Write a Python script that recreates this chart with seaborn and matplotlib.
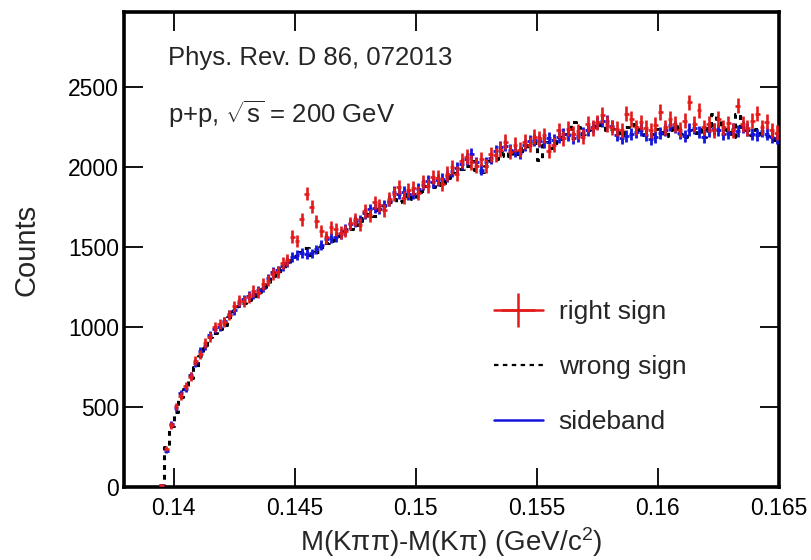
import numpy as np
import pandas as pd
import matplotlib
matplotlib.use("Agg")
import matplotlib.pyplot as plt
from matplotlib.lines import Line2D
import seaborn as sns

# ---------------- data ----------------
bin_start = 0.1395
bin_width = 0.0002
n_bins = 128

right_sign = [10, 240, 385, 505, 570, 630, 690, 790, 830, 900,
              940, 1000, 1020, 1030, 1075, 1130, 1165, 1160, 1185, 1225,
              1215, 1270, 1290, 1330, 1345, 1400, 1420, 1565, 1537, 1673,
              1835, 1752, 1662, 1600, 1560, 1625, 1612, 1590, 1600, 1650,
              1675, 1640, 1725, 1700, 1780, 1760, 1730, 1800, 1830, 1875,
              1810, 1855, 1870, 1840, 1905, 1880, 1940, 1935, 1895, 1960,
              2000, 1960, 2040, 2065, 2030, 2010, 2050, 2005, 2080, 2075,
              2110, 2160, 2095, 2140, 2110, 2160, 2140, 2190, 2180, 2200,
              2100, 2140, 2230, 2180, 2240, 2210, 2225, 2190, 2270, 2245,
              2280, 2325, 2270, 2250, 2240, 2230, 2335, 2300, 2250, 2280,
              2245, 2230, 2265, 2345, 2250, 2300, 2270, 2235, 2290, 2405,
              2270, 2355, 2250, 2270, 2230, 2300, 2250, 2275, 2230, 2385,
              2270, 2245, 2290, 2335, 2250, 2285, 2230, 2215]

wrong_sign = [5, 250, 380, 470, 560, 610, 680, 750, 820, 870,
              935, 960, 990, 1010, 1060, 1100, 1130, 1150, 1170, 1195,
              1220, 1250, 1280, 1320, 1340, 1370, 1400, 1420, 1445, 1470,
              1495, 1450, 1470, 1500, 1525, 1540, 1545, 1570, 1600, 1610,
              1640, 1660, 1680, 1705, 1695, 1740, 1755, 1780, 1800, 1780,
              1790, 1830, 1800, 1820, 1850, 1880, 1875, 1900, 1890, 1930,
              1950, 1965, 1990, 2010, 2040, 1985, 1970, 2005, 2040, 2050,
              2070, 2095, 2070, 2110, 2080, 2120, 2140, 2150, 2045, 2140,
              2160, 2120, 2175, 2190, 2210, 2285, 2250, 2205, 2230, 2260,
              2250, 2270, 2235, 2240, 2220, 2200, 2250, 2270, 2240, 2230,
              2200, 2205, 2240, 2220, 2195, 2230, 2260, 2205, 2190, 2230,
              2215, 2240, 2190, 2260, 2335, 2300, 2240, 2230, 2190, 2335,
              2250, 2230, 2200, 2240, 2210, 2195, 2180, 2170]

sideband = [10, 225, 395, 495, 585, 615, 700, 775, 850, 880,
            950, 985, 1000, 1040, 1080, 1105, 1150, 1175, 1195, 1205,
            1230, 1245, 1305, 1345, 1355, 1380, 1405, 1440, 1450, 1465,
            1455, 1460, 1485, 1515, 1550, 1555, 1565, 1580, 1610, 1645,
            1660, 1670, 1710, 1735, 1745, 1740, 1760, 1790, 1845, 1835,
            1845, 1830, 1835, 1865, 1890, 1915, 1905, 1920, 1925, 1945,
            1975, 1995, 2020, 2050, 2085, 2030, 1985, 2030, 2055, 2100,
            2125, 2135, 2110, 2100, 2090, 2140, 2165, 2170, 2165, 2155,
            2180, 2170, 2190, 2210, 2200, 2185, 2195, 2215, 2230, 2250,
            2275, 2290, 2290, 2255, 2200, 2180, 2195, 2205, 2220, 2235,
            2200, 2175, 2190, 2215, 2230, 2265, 2250, 2215, 2195, 2235,
            2245, 2220, 2190, 2225, 2240, 2230, 2205, 2215, 2240, 2225,
            2250, 2235, 2210, 2200, 2225, 2205, 2190, 2180]

x_ticks = [0.14, 0.145, 0.15, 0.155, 0.16, 0.165]
x_tick_labels = ["0.14", "0.145", "0.15", "0.155", "0.16", "0.165"]
y_ticks = [0, 500, 1000, 1500, 2000, 2500]

centers = np.round(bin_start + bin_width * np.arange(n_bins), 5)
df = pd.DataFrame({"x": centers, "right": right_sign,
                   "wrong": wrong_sign, "side": sideband})

RED = "#e21a1a"
BLUE = "#1414dc"

# ---------------- style ----------------
sns.set_theme(style="ticks")
plt.rcParams["font.family"] = ["Liberation Sans", "DejaVu Sans"]
plt.rcParams["mathtext.fontset"] = "custom"
plt.rcParams["mathtext.rm"] = "Liberation Sans"
plt.rcParams["mathtext.it"] = "Liberation Sans:italic"

fig = plt.figure(figsize=(8.11, 5.6), dpi=100)
ax = fig.add_axes([0.1534, 0.1304, 0.8071, 0.8482])

# wrong sign: dashed step histogram
sns.lineplot(data=df, x="x", y="wrong", ax=ax, color="black",
             linestyle=(0, (1.6, 1.6)), linewidth=2.2,
             drawstyle="steps-mid", estimator=None, legend=False)

# sideband (blue) and right sign (red) with error bars
ax.errorbar(df["x"], df["side"], yerr=0.8 * np.sqrt(df["side"]),
            xerr=bin_width / 2, fmt="none", ecolor=BLUE,
            elinewidth=2.0, capsize=0, zorder=3)
ax.errorbar(df["x"], df["right"], yerr=np.sqrt(df["right"]),
            xerr=bin_width / 2, fmt="none", ecolor=RED,
            elinewidth=1.9, capsize=0, zorder=4)

ax.set_xlim(0.13797, 0.165)
ax.set_ylim(0, 2970)
ax.set_xticks(x_ticks)
ax.set_xticklabels(x_tick_labels)
ax.set_yticks(y_ticks)
ax.set_xlabel("M(Kππ)-M(Kπ) (GeV/c$^{2}$)", fontsize=20, labelpad=4)
ax.set_ylabel("Counts", fontsize=21, labelpad=20)

for s in ax.spines.values():
    s.set_linewidth(2.6)
    s.set_color("black")
    s.set_visible(True)
ax.tick_params(axis="both", which="major", direction="in", top=True,
               right=True, length=14, width=1.3, labelsize=16.5,
               colors="black")
ax.tick_params(axis="x", pad=7)
ax.tick_params(axis="y", pad=4)
ax.minorticks_off()

ax.text(0.0666, 0.903, "Phys. Rev. D 86, 072013", transform=ax.transAxes,
        fontsize=18.5, va="center", ha="left")
ax.text(0.0666, 0.785, r"p+p, $\sqrt{\mathrm{s}}$ = 200 GeV",
        transform=ax.transAxes, fontsize=18.5, va="center", ha="left")

# legend
h_red = Line2D([], [], color=RED, marker="+", markersize=24,
               markeredgewidth=1.8, linewidth=1.8)
h_black = Line2D([], [], color="black", linestyle=(0, (2.0, 2.0)),
                 linewidth=1.6)
h_blue = Line2D([], [], color=BLUE, linewidth=1.8)
ax.legend([h_red, h_black, h_blue], ["right sign", "wrong sign", "sideband"],
          loc="center left", bbox_to_anchor=(0.5646, 0.2526), frameon=False,
          fontsize=19, handlelength=1.85, handletextpad=0.6,
          labelspacing=1.17, borderpad=0, borderaxespad=0)

fig.savefig("out.png", dpi=100)
